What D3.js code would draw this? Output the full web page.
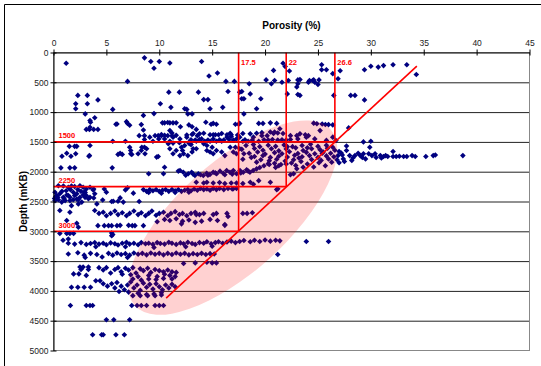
<!DOCTYPE html>
<html>
<head>
<meta charset="utf-8">
<script src="https://cdn.jsdelivr.net/npm/d3@7"></script>
<style>
  body { margin: 0; background: #fff; }
  svg { display: block; }
  text { font-family: "Liberation Sans", Arial, sans-serif; }
</style>
</head>
<body>
<div id="chart"></div>
<script>
// axis ticks
const xTicks = [0, 5, 10, 15, 20, 25, 30, 35, 40, 45];
const yTicks = [0, 500, 1000, 1500, 2000, 2500, 3000, 3500, 4000, 4500, 5000];
const gridDepths = [500, 1000, 1500, 2000, 2500, 3000, 3500, 4000, 4500];

// red cut-off annotations (depth <-> porosity pairs)
const cutDepths = [1500, 2250, 3000];
const cutPorosity = [26.6, 22, 17.5];
const cutLabels = ["26.6", "22", "17.5"];
const trendLine = [[10.65, 4120], [34.35, 230]];
const haloEnds = [[7.7, 4250], [26.2, 1290]];

// porosity (%), depth (mKB)
const shallowPts = [
  [1.2,180],[8.6,90],[9.2,150],[9.5,265],[10.0,150],[11.0,175],[14.0,150],[15.5,345],[14.7,395],
  [16.3,485],[17.1,485],[16.5,655],[7.0,485],[2.3,720],[2.1,860],[2.1,945],[3.2,720],[3.2,860],
  [4.2,795],[3.0,1030],[5.6,955],[8.5,1055],[9.5,1025],[10.1,860],[10.9,665],[11.1,920],[11.9,665],
  [12.4,945],[12.6,955],[12.7,1030],[13.1,1030],[13.7,665],[14.2,790],[14.6,790],[14.8,945],[16.0,920],
  [17.8,655],[17.8,775],[18.0,775],[18.0,1030],[21.7,180],[21.9,235],[22.3,310],[20.8,300],[20.1,460],
  [20.6,525],[20.9,470],[21.6,500],[22.2,470],[23.1,460],[23.1,525],[24.1,500],[24.5,470],[24.7,500],
  [25.1,460],[23.0,580],[23.1,705],[22.1,695],[19.6,775],[18.6,695],[17.6,665],[19.2,945],[18.5,525],
  [25.35,205],[25.35,290],[25.8,290],[26.4,355],[26.9,440],[27.1,305],[29.4,290],[30.0,230],[30.7,245],
  [31.2,220],[32.1,205],[33.4,205],[34.3,370],[23.3,455],[24.2,470],[24.6,460],[25.0,535],[26.5,720],
  [28.1,720],[28.5,720],[29.4,795],[23.3,720]
];
const upperPts = [
  [3.9,1095],[3.5,1170],[3.1,1290],[3.4,1290],[3.8,1290],[4.2,1290],[5.9,1205],[6.0,1200],[6.9,1160],
  [7.0,1190],[7.2,1220],[3.45,1140],[3.45,1255],[8.1,1395],[8.3,1210],[8.5,1300],[8.6,1395],[8.6,1460],
  [5.6,1490],[6.8,1490],[9.4,1490],[10.3,1180],[10.5,1180],[10.8,1175],[11.0,1180],[11.3,1180],[11.6,1180],
  [12.0,1245],[11.0,1310],[11.2,1350],[10.8,1395],[9.9,1395],[10.2,1395],[10.5,1390],[11.2,1395],[11.6,1390],
  [12.8,1215],[13.1,1245],[13.5,1290],[12.6,1385],[13.1,1375],[13.6,1395],[14.4,1170],[14.9,1205],[15.4,1205],
  [15.1,1190],[17.6,1190],[19.4,1190],[19.8,1190],[20.5,1180],[21.1,1190],[24.6,1185],[24.9,1195],[25.4,1200],
  [26.0,1210],[26.4,1215],[27.9,1265],[25.7,1208],[17.2,1205],[17.5,1205],
  [14.8,1380],[15.1,1380],[15.3,1380],[15.6,1380],[16.4,1380],[16.8,1380],[17.4,1385],
  [13.2,1360],[13.8,1365],[14.2,1355],[15.9,1360],[16.7,1355],[17.9,1360],[18.6,1365],[19.2,1355],
  [19.7,1345],[20.8,1360],[21.2,1350],[21.7,1360],[20.5,1335],[20.9,1335],[21.4,1280],[19.7,1395],
  [20.2,1395],[22.4,1395],[23.0,1395],[23.1,1450],[23.9,1420],[24.7,1450],[25.2,1310],[25.8,1475],
  [26.4,1420],[23.3,1365],[23.8,1380],[24.1,1395],
  [9.1,1420],[9.6,1395],[9.95,1450],[10.2,1375],[10.5,1450],[11.0,1490],[11.3,1420],[11.95,1450],
  [12.6,1420],[12.9,1490],[13.5,1490],[14.0,1450],[14.3,1490],[14.8,1490],[15.1,1450],[15.4,1490],
  [15.9,1490],[16.4,1420],[16.8,1410],[17.3,1450],[17.6,1420],[17.9,1490],[18.4,1490],[18.9,1420],[19.4,1490],
  [13.0,1465],[13.4,1470],[13.8,1460],[14.6,1470],[15.7,1465],[16.1,1470],[16.6,1460],[17.0,1470],
  [18.1,1465],[18.8,1470],[19.9,1465],[20.3,1470],[20.7,1460],[21.2,1470],[21.6,1465],[22.0,1470],
  [22.4,1460],[26.7,1477],[29.3,1500],[30.0,1490],[29.9,1590],[27.7,1570]
];
const midLeftPts = [
  [1.5,1575],[2.0,1575],[2.2,1575],[0.8,1740],[1.25,1690],[1.65,1740],[2.1,1700],[3.35,1740],[0.7,1935],
  [1.55,1935],[2.0,1935],[5.55,1935],[6.1,1710],[6.5,1710],[7.3,1645],[7.3,1700],[3.45,1560],[3.4,1728],
  [8.0,1700],[8.65,1700],[9.9,1745],[8.35,1590],[8.6,1590],[11.0,1615],[11.3,1700],[11.95,1730],[12.2,1645],
  [11.3,1520],[11.9,1515],[12.4,1560],[12.8,1520],[13.0,1545],[9.0,2035],[10.4,2035],[10.5,1925],[11.8,1990],
  [6.3,1690],[7.2,1590],[7.4,1710],[8.3,1645],[8.8,1615],[9.75,1755],[10.85,1530],[11.6,1645],[12.1,1590],
  [12.3,1700],[12.7,1730],[13.1,1670],[13.5,1615],[14.5,1645],[14.8,1670],[15.1,1700],[15.9,1670],[16.2,1730],
  [17.0,1670],[17.3,1700],[12.9,1530],[13.2,1615],[14.2,1530],[14.5,1560],[15.0,1590],[15.4,1645],[16.7,1590],
  [17.2,1590],[17.6,1615]
];
const clusterPts = [
  [18.2,1560],[18.9,1545],[19.5,1580],[20.3,1555],[21.0,1575],[21.8,1550],[22.6,1580],[23.5,1560],[24.3,1540],
  [25.0,1575],[25.8,1555],[26.4,1590],[17.8,1625],[19.0,1610],[19.8,1640],[20.6,1615],[21.3,1650],[22.0,1620],
  [22.9,1600],[23.6,1645],[24.4,1615],[25.2,1630],[25.9,1605],[26.6,1640],[18.5,1690],[19.3,1670],[20.0,1705],
  [20.9,1680],[21.6,1700],[22.3,1665],[23.1,1695],[23.9,1675],[24.7,1700],[25.5,1670],[26.2,1690],[27.0,1660],
  [19.0,1745],[19.8,1730],[20.5,1760],[21.3,1740],[22.1,1755],[22.8,1725],[23.5,1750],[24.2,1730],[25.0,1760],
  [25.8,1735],[26.5,1750],[27.3,1720],[19.6,1800],[20.4,1815],[21.1,1790],[21.9,1820],[22.7,1800],[23.4,1830],
  [24.4,1795],[25.3,1810],[26.0,1785],[26.8,1800],[20.3,1865],[21.5,1880],[22.5,1855],[24.0,1870],[25.1,1850],
  [26.3,1840],[18.0,1700],[18.7,1760],[17.9,1790],[19.2,1840],[21.0,1930],[23.0,1950],[24.6,1920],[25.7,1900],
  [22.1,1580],[24.0,1600],[25.4,1690],[23.2,1770]
];
const band1750Pts = [
  [26.9,1730],[27.2,1685],[27.4,1785],[27.7,1645],[28.0,1730],[28.2,1810],[28.5,1730],[29.0,1730],[29.3,1700],
  [29.5,1785],[29.8,1700],[30.1,1730],[30.4,1700],[30.5,1760],[30.9,1730],[31.2,1745],[31.4,1730],[31.6,1745],
  [32.1,1660],[32.1,1745],[32.4,1745],[33.1,1745],[33.4,1745],[33.9,1730],[34.2,1745],[35.2,1745],[35.9,1730],
  [36.1,1720],[38.7,1730],[27.5,1830],[28.3,1770],[29.2,1760],[27.0,1850],[28.8,1690],[31.0,1770],[32.7,1740]
];
const band2000Pts = [
  [11.96,1980],[12.27,2008],[12.74,2035],[13.06,2008],[13.37,2064],[13.69,2035],[14.16,2064],[14.48,2025],
  [14.79,2047],[15.1,2008],[15.42,2035],[15.74,1991],[16.05,2025],[16.37,1980],[16.68,2008],[17.0,1980],
  [17.31,2035],[17.63,1980],[17.94,2008],[18.26,1969],[18.57,2008],[18.88,1980],[19.2,1952],
  [12.5,2060],[13.2,2040],[13.9,2050],[14.6,2060],[15.3,2020],[16.2,2050],[16.9,2040],[17.7,2020],[18.4,1990],
  [19.5,1930],[19.9,1900],[20.4,1880],[20.9,1860],[21.3,1900],[22.0,1870],
  [13.5,2176],[14.2,2190],[14.5,2176],[15.1,2190],[15.7,2180],[16.2,2200],[16.8,2190],[17.3,2190],[17.9,2200],
  [18.6,2176],[18.9,2210],[20.5,2176],[21.1,2300],[22.7,2035],[22.4,2050],[22.9,1895],[23.6,1925],[21.2,2288],
  [17.0,2287],[19.4,2150]
];
const band2300Pts = [
  [8.5,2300],[8.8,2330],[9.1,2300],[9.4,2320],[9.7,2300],[10.0,2330],[10.3,2310],[10.6,2300],[10.9,2330],
  [11.2,2300],[11.5,2320],[11.8,2300],[12.1,2330],[12.4,2310],[12.7,2300],[13.0,2320],[13.3,2290],[13.6,2310],
  [13.9,2280],[14.2,2300],[14.5,2290],[14.8,2310],[15.1,2280],[15.4,2300],[15.7,2280],[16.1,2300],[16.5,2280],
  [16.9,2290],[17.3,2280],[9.0,2350],[10.2,2360],[11.5,2350],[12.8,2345],
  [0.46,2235],[0.93,2240],[1.4,2260],[1.7,2240],[2.0,2250],[2.5,2235],[2.8,2260],[3.1,2290],[3.45,2260],
  [3.8,2290],[0.14,2345],[0.3,2400],[0.6,2370],[0.93,2430],[1.25,2390],[1.56,2430],[1.87,2345],[2.2,2370],
  [2.5,2430],[2.8,2390],[3.1,2400],[3.45,2430],[0.14,2485],[0.46,2470],[0.78,2510],[1.1,2485],[1.56,2485],
  [1.87,2470],[2.35,2540],[2.67,2510],[0.6,2650],[1.7,2570],[3.3,2455],[4.1,2540],[0.1,2450],[0.2,2420],
  [0.8,2330],[1.2,2320],[1.6,2300],[2.3,2300],[2.6,2330],[3.0,2350],[0.4,2430],[1.0,2455],[1.4,2400],
  [2.0,2400],[2.2,2460],[2.9,2340],[3.75,2305],[3.9,2370],[2.98,2430],[2.34,2470],[4.8,2290],[5.0,2345],
  [5.65,2495],[6.1,2495],[6.8,2305],[7.0,2270],[7.55,2360],[3.8,2440],[4.65,2475],[5.5,2500],[6.3,2440],
  [6.6,2510],[8.1,2500]
];
const band2750Pts = [
  [3.9,2650],[4.3,2700],[4.7,2680],[5.0,2740],[5.4,2700],[5.8,2660],[6.1,2720],[6.5,2690],[6.9,2740],
  [7.2,2700],[7.6,2660],[8.0,2720],[8.3,2690],[8.7,2740],[9.0,2700],[9.3,2660],[9.7,2730],[10.0,2700],
  [10.4,2680],[10.8,2740],[11.1,2700],[11.5,2670],[11.9,2720],[12.2,2700],[12.6,2740],[13.0,2700],[13.4,2680],
  [13.8,2720],[10.5,2800],[11.0,2820],[11.6,2790],[12.2,2830],[12.8,2810],[13.4,2850],[14.0,2830],[14.8,2800],
  [15.5,2820],[9.8,2840],[13.5,2720],[14.2,2700],[15.1,2720],[15.4,2700],[16.4,2700],[16.5,2750],[17.9,2700],
  [18.3,2700],[18.8,2690],[16.2,2900],[1.55,2680],[2.2,2865],[2.35,2930],[1.25,2820],
  [4.2,2905],[4.8,2905],[5.2,2905],[5.5,2905],[6.0,2905],[7.45,2905],[7.7,2905],[8.5,2905],[6.3,2900],
  [7.1,2900],[12.1,2875],[16.2,2885],[0.6,3035],[1.25,3035],[1.55,3035],[1.9,3035],[5.5,3030],[5.5,3075],[5.6,3055]
];
const band3200Pts = [
  [1.4,3200],[2.0,3215],[2.6,3190],[3.1,3220],[3.5,3205],[3.9,3190],[4.3,3215],[4.7,3200],[5.0,3225],
  [5.4,3195],[5.8,3210],[6.1,3230],[6.5,3200],[6.9,3185],[7.2,3215],[7.6,3200],[8.0,3225],[8.3,3190],
  [8.7,3210],[9.0,3200],[9.4,3220],[9.8,3190],[10.1,3205],[10.5,3215],[10.9,3185],[11.2,3200],[11.6,3220],
  [12.0,3195],[12.3,3210],[12.7,3185],[13.1,3205],[13.4,3220],[13.8,3190],[14.2,3200],[14.5,3175],[14.9,3210],
  [15.3,3190],[15.6,3175],[16.0,3200],[16.4,3180],[16.8,3165],[17.2,3190],[17.6,3170],[18.0,3155],[18.6,3175],
  [19.0,3150],[19.5,3170],[20.0,3145],[20.5,3165],[21.0,3150],[21.4,3160],[23.9,3170],[26.0,3170],[21.2,3390],
  [4.0,3260],[6.8,3260],[9.5,3270],[12.5,3260],[15.0,3250],[0.9,3150],[1.4,3130]
];
const band3300Pts = [
  [1.4,3380],[2.3,3360],[2.9,3400],[3.5,3370],[4.1,3390],[5.2,3370],[5.6,3400],[6.0,3365],[6.4,3390],
  [6.8,3375],[7.2,3400],[7.6,3365],[8.0,3385],[8.4,3370],[8.8,3395],[9.2,3365],[9.6,3385],[10.0,3370],
  [10.4,3395],[10.8,3370],[11.2,3390],[11.6,3365],[12.0,3385],[12.4,3370],[12.8,3395],[13.2,3375],[13.6,3390],
  [14.0,3370],[14.4,3390],[14.8,3375],[15.2,3380],[3.0,3440],[4.6,3430],[7.0,3440],[12.3,3540],[13.4,3530],
  [14.5,3520],[15.0,3530],[15.4,3530]
];
const band3650Pts = [
  [2.5,3600],[2.8,3600],[3.3,3600],[2.6,3640],[3.3,3640],[1.9,3715],[2.4,3715],[3.1,3740],[4.3,3610],
  [4.7,3650],[5.0,3610],[5.4,3700],[5.8,3640],[6.1,3610],[6.4,3680],[6.8,3620],[7.1,3650],[7.5,3610],
  [7.8,3700],[8.2,3630],[8.5,3660],[8.9,3620],[9.2,3690],[9.6,3640],[10.0,3660],[10.4,3680],[10.8,3650],
  [11.2,3680],[11.6,3690],[6.5,3720],[7.3,3730],[8.0,3760],[9.0,3740],[9.8,3760],[10.5,3720],[11.0,3740],
  [7.5,3800],[8.3,3820],[9.0,3800],[9.7,3810],[10.4,3790],[11.2,3800],[11.5,3760]
];
const band3900Pts = [
  [1.7,3940],[2.3,3940],[2.9,3940],[3.5,3940],[4.7,3880],[5.1,3920],[5.5,3880],[5.8,3950],[6.0,3860],
  [6.4,3920],[6.7,3980],[7.0,3900],[7.3,3850],[7.6,3950],[7.9,3900],[8.2,3990],[8.5,3870],[8.8,3940],
  [9.1,3890],[9.4,3970],[9.7,3880],[10.0,3930],[10.3,3980],[10.6,3900],[10.9,3950],[11.2,3890],[11.5,3930],
  [6.2,4010],[7.1,4020],[8.0,4040],[8.8,4060],[9.5,4050],[10.2,4030],[4.0,3830],[4.4,3830]
];
const deepPts = [
  [7.5,4080],[8.2,4080],[8.9,4080],[9.6,4080],[10.2,4070],
  [1.6,4245],[3.1,4245],[3.45,4245],[3.7,4245],[7.4,4245],[7.9,4245],[8.3,4245],[8.8,4245],[9.6,4245],
  [10.0,4245],[10.4,4245],[5.0,4485],[5.7,4485],[7.2,4485],
  [3.7,4735],[4.55,4735],[4.7,4735],[5.9,4735],[6.7,4735]
];

const allPts = [].concat(shallowPts, upperPts, midLeftPts, clusterPts, band1750Pts, band2000Pts,
  band2300Pts, band2750Pts, band3200Pts, band3300Pts, band3650Pts, band3900Pts, deepPts);

const W = 541, H = 366;
const x = d3.scaleLinear().domain([0, 45]).range([53.5, 529.5]);
const y = d3.scaleLinear().domain([0, 5000]).range([52.5, 350.5]);
const plotW = x(45) - x(0);

const svg = d3.select("#chart").append("svg")
  .attr("width", W)
  .attr("height", H);

// outer frame (left and top edges only are visible)
svg.append("path")
  .attr("d", "M4.5," + H + "V4.5H" + W)
  .attr("fill", "none")
  .attr("stroke", "#000");

// gridlines
svg.append("g")
  .attr("transform", "translate(" + x(0) + ",0)")
  .call(d3.axisLeft(y).tickValues(gridDepths).tickSize(-plotW).tickFormat(""))
  .call(g => g.select(".domain").remove())
  .selectAll("line").attr("stroke", "#222");

// plot border
svg.append("rect")
  .attr("x", x(0)).attr("y", y(0))
  .attr("width", plotW).attr("height", y(5000) - y(0))
  .attr("fill", "none").attr("stroke", "#888");

// points
svg.append("g")
  .selectAll("path")
  .data(allPts)
  .enter()
  .append("path")
  .attr("transform", d => "translate(" + x(d[0]) + "," + y(d[1]) + ")")
  .attr("d", "M0,-2.8L2.8,0L0,2.8L-2.8,0Z")
  .attr("fill", "#000080");

// pink halo over the trend
const h0 = [x(haloEnds[0][0]), y(haloEnds[0][1])];
const h1 = [x(haloEnds[1][0]), y(haloEnds[1][1])];
const hAngle = Math.atan2(h1[1] - h0[1], h1[0] - h0[0]) * 180 / Math.PI;
const hLen = Math.hypot(h1[0] - h0[0], h1[1] - h0[1]);
svg.append("ellipse")
  .attr("transform", "translate(" + (h0[0] + h1[0]) / 2 + "," + (h0[1] + h1[1]) / 2 + ")rotate(" + hAngle + ")")
  .attr("rx", hLen / 2)
  .attr("ry", 55)
  .attr("fill", "#ff0000")
  .attr("fill-opacity", 0.18);

// red cut-off lines
const red = svg.append("g").attr("stroke", "#ff0000").attr("stroke-width", 1.6);
cutDepths.forEach((d, i) => {
  red.append("line")
    .attr("x1", x(0)).attr("x2", x(cutPorosity[i]))
    .attr("y1", y(d)).attr("y2", y(d));
  red.append("line")
    .attr("x1", x(cutPorosity[i])).attr("x2", x(cutPorosity[i]))
    .attr("y1", y(0)).attr("y2", y(d));
});
red.append("line")
  .attr("x1", x(trendLine[0][0])).attr("y1", y(trendLine[0][1]))
  .attr("x2", x(trendLine[1][0])).attr("y2", y(trendLine[1][1]));

const labels = svg.append("g")
  .attr("fill", "#ff0000")
  .attr("font-size", "7.5px")
  .attr("font-weight", "bold");
cutDepths.forEach((d, i) => {
  labels.append("text")
    .attr("x", x(0) + 5).attr("y", y(d) - 3.5)
    .text(d);
  labels.append("text")
    .attr("x", x(cutPorosity[i]) + 2.5).attr("y", y(0) + 12)
    .text(cutLabels[i]);
});

// top axis
const topAxis = svg.append("g")
  .attr("transform", "translate(0," + y(0) + ")")
  .call(d3.axisTop(x).tickValues(xTicks).tickFormat(d3.format("d"))
    .tickSize(3).tickSizeOuter(0).tickPadding(4));
topAxis.selectAll(".tick line").attr("y1", 3);

// left axis
const leftAxis = svg.append("g")
  .attr("transform", "translate(" + x(0) + ",0)")
  .call(d3.axisLeft(y).tickValues(yTicks).tickFormat(d3.format("d"))
    .tickSize(3).tickSizeOuter(0).tickPadding(2));
leftAxis.selectAll(".tick line").attr("x1", 3);

svg.selectAll(".tick text")
  .attr("font-size", "8.5px")
  .attr("font-family", "Liberation Sans, Arial, sans-serif")
  .attr("fill", "#222");

// titles
svg.append("text")
  .attr("x", (x(0) + x(45)) / 2).attr("y", 29)
  .attr("text-anchor", "middle")
  .attr("font-size", "10px").attr("font-weight", "bold")
  .text("Porosity (%)");

svg.append("text")
  .attr("transform", "translate(27," + (y(0) + y(5000)) / 2 + ")rotate(-90)")
  .attr("text-anchor", "middle")
  .attr("font-size", "10px").attr("font-weight", "bold")
  .text("Depth (mKB)");
</script>
</body>
</html>
